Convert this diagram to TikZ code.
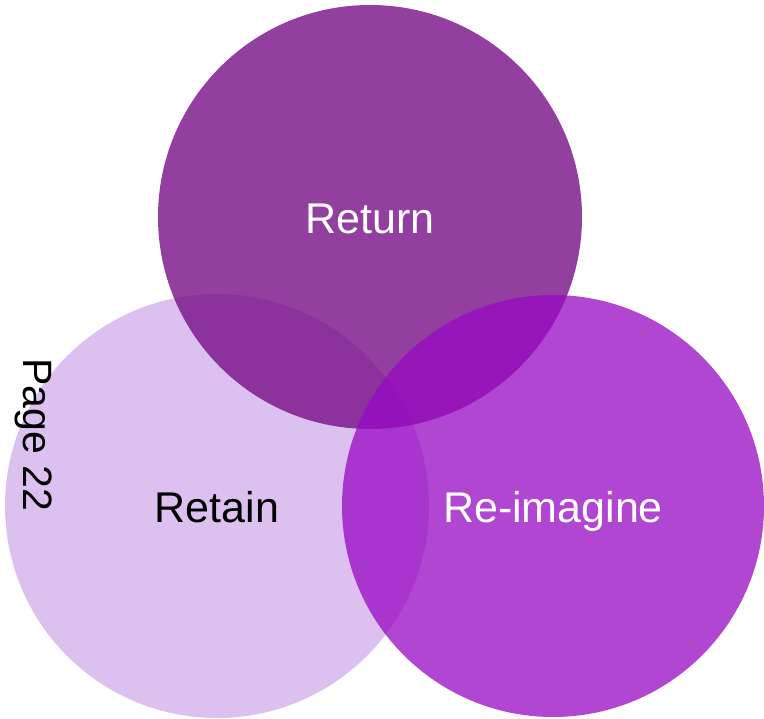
\documentclass[tikz,border=0pt]{standalone}
\usepackage{fontspec}
\setmainfont{Liberation Sans}
\usetikzlibrary{positioning}
\definecolor{retaincol}{HTML}{DCC0F0}
\definecolor{returncol}{HTML}{770F88}
\definecolor{reimaginecol}{HTML}{9708C3}
\tikzset{
	petal/.style={circle, inner sep=0pt, minimum size=424pt, text height=34pt, text depth=0pt, font=\fontsize{43}{50}\selectfont, text opacity=1},
	% page number down the left edge
	pagenum/.style={rotate=-90, inner sep=0pt, font=\fontsize{41}{48}\selectfont},
}

\begin{document}
\begin{tikzpicture}[x=1pt, y=-1pt]
	\useasboundingbox (0,0) rectangle (764,719);
	\node (retain) [petal, fill=retaincol, text=black] at (217,506) {Retain};
	\node (return) [petal, fill=returncol, fill opacity=0.8, text=white] at (370,217) {Return};
	\node (reimagine) [petal, fill=reimaginecol, fill opacity=0.75, text=white, minimum size=422pt] at (553,506) {Re-imagine};
	
	\node (page) [pagenum] at (34,435) {Page 22};
\end{tikzpicture}
\end{document}
